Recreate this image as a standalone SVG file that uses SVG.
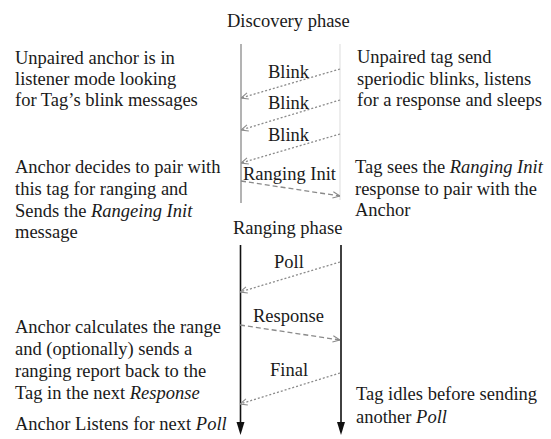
<svg xmlns="http://www.w3.org/2000/svg" width="551" height="439" viewBox="0 0 551 439">
<style>
text{font-family:"Liberation Serif","Times New Roman",serif;font-size:18.5px;fill:#1a1a1a}
.i{font-style:italic}
.msg{fill:none;stroke:#8a8a8a;stroke-width:1.3;marker-end:url(#open)}
.dot{stroke-dasharray:2 2}
.dash{stroke-dasharray:5 3}
</style>
<defs>
<marker id="open" viewBox="0 0 10 10" refX="10" refY="5" markerWidth="8" markerHeight="8" markerUnits="userSpaceOnUse" orient="auto">
<path d="M1,1 L10,5 L1,9" fill="none" stroke="#8a8a8a" stroke-width="1.3"/>
</marker>
</defs>
<rect width="551" height="439" fill="#fff"/>
<g id="lifelines">
<line x1="241" y1="44" x2="241" y2="203" stroke="#9a9a9a" stroke-width="1.5"/>
<line x1="340" y1="44" x2="340" y2="200" stroke="#e2e2e2" stroke-width="1.2"/>
<line x1="240.5" y1="245" x2="240.5" y2="422" stroke="#111" stroke-width="1.6"/>
<path d="M236.5,422 L244.5,422 L240.5,435 Z" fill="#111"/>
<line x1="341" y1="245" x2="341" y2="422" stroke="#111" stroke-width="1.6"/>
<path d="M337,422 L345,422 L341,435 Z" fill="#111"/>
</g>
<g id="connectors">
<path class="msg dot" d="M340,69 L241,98"/>
<path class="msg dot" d="M340,100 L241,130"/>
<path class="msg dot" d="M340,134 L241,163"/>
<path class="msg dash" d="M241,181 L340,196"/>
<path class="msg dot" d="M340,262 L240,292"/>
<path class="msg dash" d="M240,325 L340,340"/>
<path class="msg dot" d="M340,373 L240,404"/>
</g>
<g id="labels">
<text x="227" y="27">Discovery phase</text>
<text x="268" y="78">Blink</text>
<text x="268" y="109">Blink</text>
<text x="268" y="141">Blink</text>
<text x="243" y="180">Ranging Init</text>
<text x="233" y="234">Ranging phase</text>
<text x="274" y="268">Poll</text>
<text x="253" y="322">Response</text>
<text x="270" y="376">Final</text>
</g>
<g id="anchor-discovery">
<text x="15" y="64">Unpaired anchor is in</text>
<text x="15" y="85">listener mode looking</text>
<text x="15" y="106">for Tag’s blink messages</text>
</g>
<g id="tag-discovery">
<text x="357" y="63">Unpaired tag send</text>
<text x="357" y="85">speriodic blinks, listens</text>
<text x="357" y="106">for a response and sleeps</text>
</g>
<g id="anchor-init">
<text x="15" y="173">Anchor decides to pair with</text>
<text x="15" y="195">this tag for ranging and</text>
<text x="15" y="217">Sends the <tspan class="i">Rangeing Init</tspan></text>
<text x="15" y="238">message</text>
</g>
<g id="tag-init">
<text x="355" y="173">Tag sees the <tspan class="i">Ranging Init</tspan></text>
<text x="355" y="195">response to pair with the</text>
<text x="355" y="216">Anchor</text>
</g>
<g id="anchor-ranging">
<text x="15" y="333">Anchor calculates the range</text>
<text x="15" y="355">and (optionally) sends a</text>
<text x="15" y="377">ranging report back to the</text>
<text x="15" y="399">Tag in the next <tspan class="i">Response</tspan></text>
<text x="15" y="430">Anchor Listens for next <tspan class="i">Poll</tspan></text>
</g>
<g id="tag-ranging">
<text x="356" y="400">Tag idles before sending</text>
<text x="356" y="423">another <tspan class="i">Poll</tspan></text>
</g>
</svg>
